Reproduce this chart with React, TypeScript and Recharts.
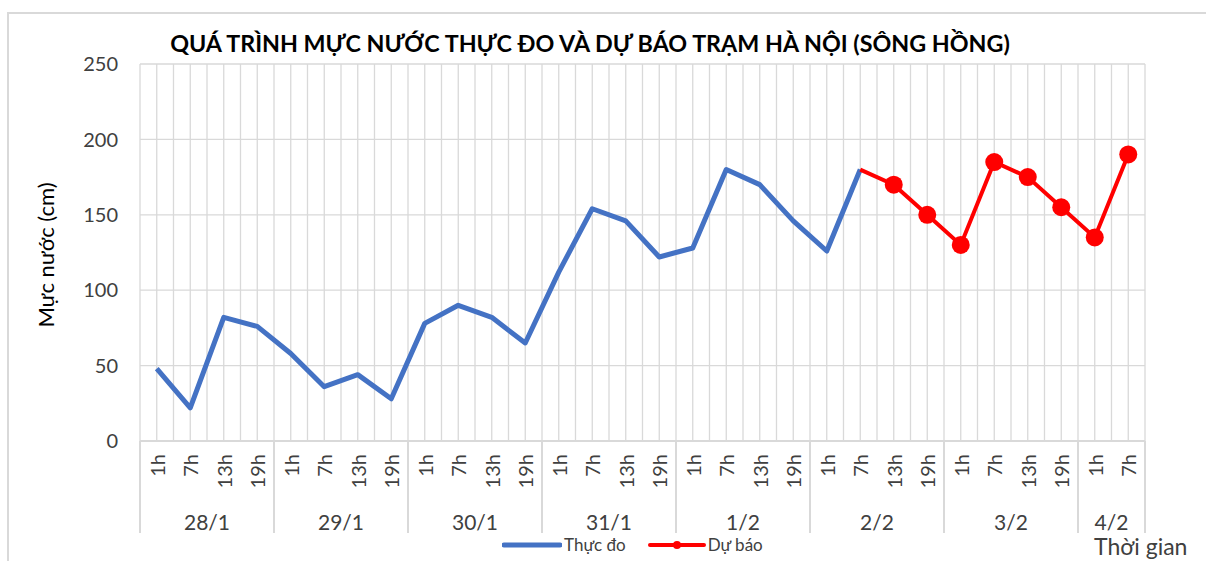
import React from 'react';
import { LineChart, Line, XAxis, YAxis, CartesianGrid, Legend } from 'recharts';

const days = ['28/1', '29/1', '30/1', '31/1', '1/2', '2/2', '3/2', '4/2'];
const hours = ['1h', '7h', '13h', '19h'];
const hoursPerDay = [4, 4, 4, 4, 4, 4, 4, 2];

// Thực đo: 28/1 1h -> 2/2 7h
const measured = [48, 22, 82, 76, 58, 36, 44, 28, 78, 90, 82, 65, 112, 154, 146, 122, 128, 180, 170, 146, 126, 180];
// Dự báo: 2/2 7h -> 4/2 7h
const forecast = [180, 170, 150, 130, 185, 175, 155, 135, 190];
const forecastStart = 21;

const yTicks = [0, 50, 100, 150, 200, 250];

const FONT = 'Lato, "Open Sans", sans-serif';
const TEXT = '#404040';
const GRID = '#d9d9d9';

// build rows
const rows: any[] = [];
const dayBounds: number[] = [0];
const dayCenters: number[] = [];
let idx = 0;
days.forEach((day, d) => {
  const start = idx;
  for (let h = 0; h < hoursPerDay[d]; h++) {
    const f = idx - forecastStart;
    rows.push({
      x: idx + 0.5,
      hour: hours[h],
      day,
      measured: idx < measured.length ? measured[idx] : null,
      forecast: f >= 0 && f < forecast.length ? forecast[f] : null,
    });
    idx++;
  }
  dayBounds.push(idx);
  dayCenters.push((start + idx) / 2);
});
const total = idx;
const xTicks = Array.from({ length: total * 2 + 1 }, (_, k) => k / 2);

const HourTick = (props: any) => {
  const { x, y, payload } = props;
  const v = payload.value;
  if (Number.isInteger(v)) {
    if (dayBounds.includes(v)) {
      return <line x1={x} x2={x} y1={y} y2={y + 92} stroke={GRID} strokeWidth={2} />;
    }
    const di = dayCenters.indexOf(v);
    if (di < 0) return <g />;
    return (
      <text x={x} y={y + 80} textAnchor="middle" dominantBaseline="central" fontSize={21} fontFamily={FONT} fill={TEXT}>
        {days[di]}
      </text>
    );
  }
  const row = rows.find((r) => r.x === v);
  if (!row) return <g />;
  return (
    <text
      x={x}
      y={y + 13}
      transform={`rotate(-90, ${x}, ${y + 13})`}
      textAnchor="end"
      dominantBaseline="central"
      fontSize={20}
      fontFamily={FONT}
      fill={TEXT}
    >
      {row.hour}
    </text>
  );
};

const ForecastDot = (props: any) => {
  const { cx, cy, index } = props;
  if (index === forecastStart || cx == null || cy == null) return <g key={`d${index}`} />;
  return <circle key={`d${index}`} cx={cx} cy={cy} r={9} fill="#ff0000" />;
};

const LegendContent = () => (
  <div style={{ display: 'flex', alignItems: 'center', fontFamily: FONT, fontSize: 17, color: TEXT }}>
    <svg width={60} height={10}>
      <line x1={2} x2={58} y1={5} y2={5} stroke="#4472c4" strokeWidth={5} strokeLinecap="round" />
    </svg>
    <span style={{ marginLeft: 2 }}>Thực đo</span>
    <svg width={58} height={10} style={{ marginLeft: 22 }}>
      <line x1={2} x2={56} y1={5} y2={5} stroke="#ff0000" strokeWidth={4} strokeLinecap="round" />
      <circle cx={29} cy={5} r={4} fill="#ff0000" />
    </svg>
    <span style={{ marginLeft: 2 }}>Dự báo</span>
  </div>
);

export default function App() {
  return (
    <div style={{ position: 'relative', width: 1206, height: 561, background: '#fff', overflow: 'hidden' }}>
      <style>{'body{margin:0}'}</style>
      <div
        style={{
          position: 'absolute',
          left: 7,
          top: 12,
          width: 1220,
          height: 600,
          borderLeft: `2px solid ${GRID}`,
          borderTop: `2px solid ${GRID}`,
        }}
      />
      <LineChart width={1206} height={561} data={rows} margin={{ top: 64, right: 61, left: 80, bottom: 8 }}>
        <CartesianGrid stroke={GRID} strokeWidth={1.3} />
        <XAxis
          dataKey="x"
          type="number"
          domain={[0, total]}
          ticks={xTicks}
          interval={0}
          height={91}
          tickLine={false}
          tickSize={0}
          tickMargin={0}
          axisLine={{ stroke: GRID, strokeWidth: 2 }}
          tick={<HourTick />}
        />
        <YAxis
          domain={[0, 250]}
          ticks={yTicks}
          width={60}
          axisLine={false}
          tickLine={false}
          tickSize={0}
          tickMargin={22}
          tick={{ fontSize: 20, fontFamily: FONT, fill: TEXT }}
        />
        <Legend
          verticalAlign="bottom"
          content={<LegendContent />}
          wrapperStyle={{ position: 'absolute', left: 502, top: 534, width: 320, bottom: 'auto' }}
        />
        <Line
          dataKey="measured"
          stroke="#4472c4"
          strokeWidth={5}
          dot={false}
          strokeLinejoin="round"
          isAnimationActive={false}
        />
        <Line
          dataKey="forecast"
          stroke="#ff0000"
          strokeWidth={4}
          dot={<ForecastDot />}
          activeDot={false}
          isAnimationActive={false}
        />
      </LineChart>
      <div
        style={{
          position: 'absolute',
          left: 0,
          width: 1180,
          top: 29,
          textAlign: 'center',
          fontFamily: FONT,
          fontWeight: 700,
          fontSize: 23.3,
          color: '#000',
        }}
      >
        QUÁ TRÌNH MỰC NƯỚC THỰC ĐO VÀ DỰ BÁO TRẠM HÀ NỘI (SÔNG HỒNG)
      </div>
      <div
        style={{
          position: 'absolute',
          left: 45,
          top: 255,
          transform: 'translate(-50%, -50%) rotate(-90deg)',
          whiteSpace: 'nowrap',
          fontFamily: FONT,
          fontSize: 22,
          color: '#000',
        }}
      >
        Mực nước (cm)
      </div>
      <div
        style={{
          position: 'absolute',
          left: 1094,
          top: 535,
          lineHeight: '23px',
          whiteSpace: 'nowrap',
          fontFamily: FONT,
          fontSize: 23,
          color: TEXT,
        }}
      >
        Thời gian
      </div>
    </div>
  );
}
